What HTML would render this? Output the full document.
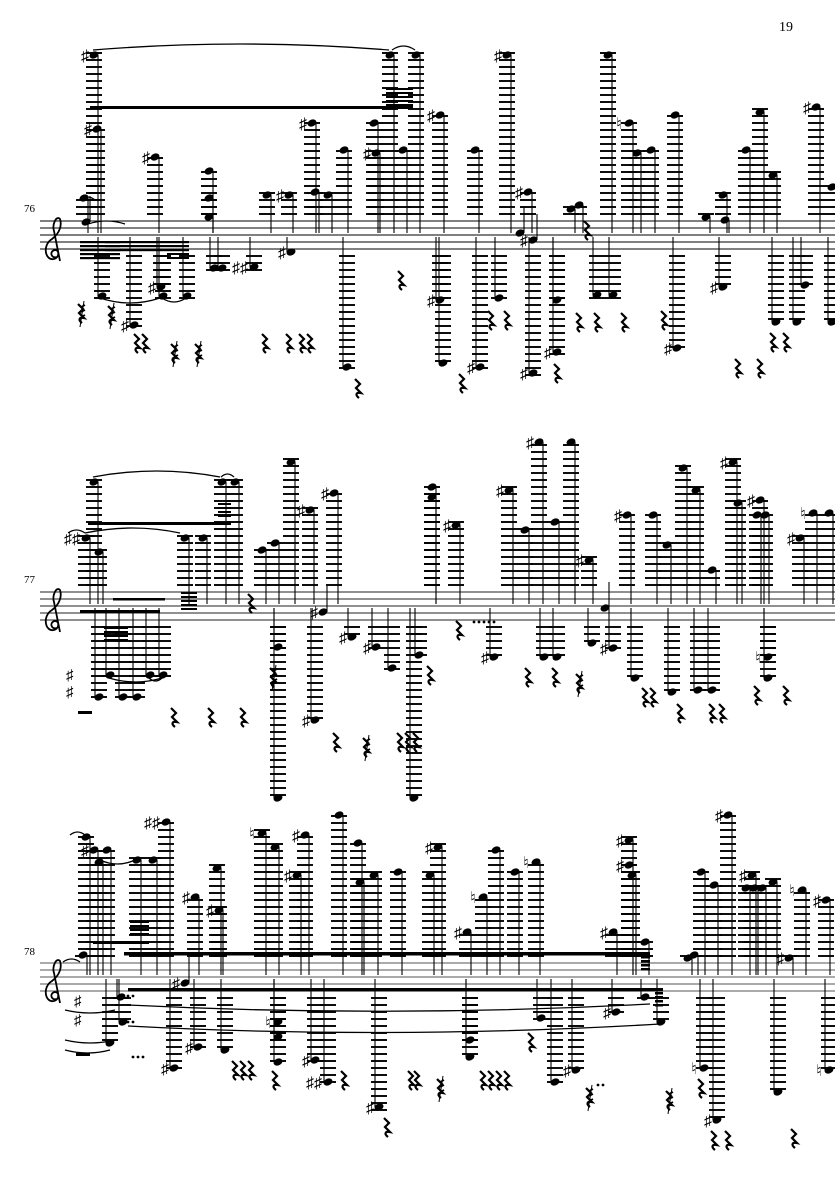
<!DOCTYPE html>
<html><head><meta charset="utf-8">
<style>
html,body{margin:0;padding:0;background:#fff;}
svg{display:block;}
text{font-family:"Liberation Serif","DejaVu Serif",serif;fill:#000;}
</style></head>
<body>
<svg id="s" width="835" height="1181" viewBox="0 0 835 1181" xmlns="http://www.w3.org/2000/svg">
<rect width="835" height="1181" fill="#fff"/>
<text x="779" y="31" font-size="14">19</text>
<text x="24" y="212" font-size="11">76</text>
<text x="24" y="583" font-size="11">77</text>
<text x="24" y="955" font-size="11">78</text>
<g id="g"></g>
</svg>
<script>
var NS="http://www.w3.org/2000/svg",G=document.getElementById('g');
function el(t,a){var e=document.createElementNS(NS,t);for(var k in a)e.setAttribute(k,a[k]);G.appendChild(e);return e;}
function line(x1,y1,x2,y2,w,c){el('line',{x1:x1,y1:y1,x2:x2,y2:y2,stroke:c||'#000','stroke-width':w||1});}
var tops=[221,592,963];
function staff(T,c){for(var i=0;i<5;i++)line(40,T+i*7,835,T+i*7,1.1,c);
 el('path',{d:'M'+(57)+','+(T+36)+' c-6,2 -8,-6 -2,-7 c5,0 4,8 -1,9 c-9,2 -12,-14 -2,-20 c8,-6 10,-14 8,-20 c-4,-4 -8,6 -6,12 l6,30',fill:'none',stroke:'#000','stroke-width':1.8});
}
staff(221,'#000');staff(592,'#222');staff(963,'#555');
function sysOf(y){return y<420?0:(y<800?1:2);}
function note(x,y,acc,noStem){
 var T=tops[sysOf(y)],B=T+28;
 if(y<T-3){for(var ly=T-7;ly>=y-3;ly-=7)line(x-7,ly,x+9,ly,1.9);}
 if(y>B+3){for(var ly=B+7;ly<=y+3;ly+=7)line(x-7,ly,x+9,ly,1.9);}
 el('ellipse',{cx:x+1,cy:y,rx:4.6,ry:3.4,transform:'rotate(-22 '+(x+1)+' '+y+')',fill:'#000'});
 if(!noStem){
  if(y<T)line(x+5,y,x+5,T+12,1.1);
  else if(y>B)line(x-3,y,x-3,B-12,1.1);
  else line(x+5,y,x+5,y-26,1.1);
 }
 if(acc){var s=acc=='n'?'\u266E':(acc=='##'?'\u266F\u266F':'\u266F');
  var t=el('text',{x:x-(acc=='##'?21:12),y:y+6,'font-size':16,'font-family':'DejaVu Sans, sans-serif'});t.textContent=s;}
}
function rest(x,y,slash){
 el('path',{d:'M'+(x-2)+','+(y-9)+' l5,5 l-4,4 l5,5 c-5,-1 -6,2 -2,5',fill:'none',stroke:'#000','stroke-width':2.2});
 if(slash){line(x+4,y-12,x,y+14,1);for(var i=0;i<3;i++)line(x+1,y-6+i*5,x+5,y-8+i*5,1.8);}
}
function beam(x1,x2,y,h){el('rect',{x:x1,y:y,width:x2-x1,height:h||3,fill:'#000'});}
function tie(x1,x2,y,up,h){var d=h||(up?-6:6);el('path',{d:'M'+x1+','+y+' Q'+((x1+x2)/2)+','+(y+d*2)+' '+x2+','+y,fill:'none',stroke:'#000','stroke-width':1.3});}
function dots(x,y,n){for(var i=0;i<n;i++)el('circle',{cx:x+i*5,cy:y,r:1.4,fill:'#000'});}

var s1=[[93,55,'#'],[96,129,'#'],[83,198,''],[85,222,''],[389,55,''],[415,55,''],[154,157,'#'],[208,171,''],[208,198,''],[208,217,''],
[266,195,''],[288,195,'#'],[314,192,''],[327,195,''],[311,123,'#'],[343,150,''],[373,123,''],[375,153,'#'],[402,150,''],[439,115,'#'],
[474,150,''],[506,55,'#'],[527,192,'#'],[519,233,''],[532,240,'#'],[570,209,''],[578,205,''],[607,55,''],[628,123,'n'],[636,153,''],
[650,150,''],[674,115,''],[705,217,''],[722,195,''],[724,220,''],[745,150,''],[759,112,''],[772,175,''],[815,107,'#'],[831,187,''],
[213,268,''],[221,268,''],[253,267,'##'],[290,252,'#'],[101,296,''],[160,287,'#'],[162,296,''],[186,296,''],[346,367,''],
[133,325,'#'],[442,363,''],[439,300,'#'],[479,367,'#'],[498,298,''],[532,373,'#'],[556,352,'#'],[556,300,''],[596,295,''],[612,295,''],
[676,348,'#'],[722,287,'#'],[775,322,''],[796,322,''],[804,285,''],[831,322,'']];
s1.forEach(function(n){note(n[0],n[1],n[2]);});
beam(90,413,106,3);for(var i=0;i<5;i++)beam(386,413,88+i*4,2);
tie(93,389,50,true,-6);tie(392,415,50,true,-4);tie(80,95,200,true,-3);tie(88,125,224,true,-3);
for(var i=0;i<5;i++)beam(80,120,241+i*4,2.2);for(var i=0;i<3;i++)beam(105,189,241+i*4,2.2);beam(167,189,253,2);beam(167,189,257,2);
tie(100,160,298,false,5);tie(162,186,298,false,4);
[[136,343],[144,343],[264,343],[288,343],[301,343],[309,343],[357,388],[461,383],[490,320],[506,320],[556,373],[578,322],[596,322],[623,322],[663,320],[737,368],[759,368],[772,342],[785,342],[586,230],[400,280]].forEach(function(r){rest(r[0],r[1]);});
[[80,313],[110,315],[173,353],[197,353]].forEach(function(r){rest(r[0],r[1],true);});

var s2=[[93,482,''],[221,482,''],[234,482,''],[85,538,'##'],[98,552,''],[184,538,''],[202,538,''],[261,550,''],[274,543,''],[290,462,''],
[309,510,'#'],[333,493,'#'],[431,487,''],[431,497,''],[455,525,'#'],[508,490,'#'],[538,442,'#'],[524,530,''],[554,522,''],[570,442,''],
[588,560,'#'],[626,515,'#'],[652,515,''],[666,545,''],[682,468,''],[695,490,''],[711,570,''],[732,462,'#'],[737,503,''],[759,500,'#'],
[756,515,''],[764,515,''],[799,538,'#'],[812,513,'n'],[828,513,''],
[277,647,''],[322,612,'#'],[314,720,'#'],[351,637,'#'],[375,647,'#'],[391,668,''],[418,655,''],[493,657,'#'],[543,657,''],[556,657,''],
[591,643,''],[612,648,'#'],[604,608,''],[634,678,''],[671,692,''],[697,690,''],[711,690,''],[767,657,'n'],[767,678,''],
[109,675,''],[149,675,''],[162,675,''],[98,697,''],[122,697,''],[136,697,'']];
s2.forEach(function(n){note(n[0],n[1],n[2]);});
beam(88,231,522,3);for(var i=0;i<4;i++)beam(218,231,503+i*4,2);
tie(93,220,477,true,-6);tie(221,234,477,true,-3);tie(85,180,533,true,-5);tie(68,85,533,true,-3);
beam(80,160,610,3);beam(113,165,598,2.5);for(var i=0;i<5;i++)beam(181,197,592+i*4,2);
for(var i=0;i<4;i++)beam(104,128,627+i*4,2);
tie(109,162,678,false,4);tie(149,162,678,false,3);
el('rect',{x:78,y:711,width:14,height:3,fill:'#000'});
[[250,603],[429,675],[458,630],[527,677],[554,677],[644,697],[652,697],[679,713],[711,713],[721,713],[756,695],[785,695],[173,717],[210,717],[242,717],[335,742],[399,742],[407,742],[415,742]].forEach(function(r){rest(r[0],r[1]);});
[[272,677],[578,683],[365,747]].forEach(function(r){rest(r[0],r[1],true);});
dots(474,622,5);
el('text',{x:66,y:680,'font-size':15,'font-family':'DejaVu Sans'}).textContent='\u266F';
el('text',{x:66,y:697,'font-size':15,'font-family':'DejaVu Sans'}).textContent='\u266F';

var s3=[[85,837,''],[93,850,'#'],[106,850,''],[98,862,''],[136,860,''],[152,860,''],[165,822,'##'],[194,897,'#'],[218,910,'#'],[216,868,''],
[261,833,'n'],[274,847,''],[277,798,''],[304,835,'#'],[296,875,'#'],[338,815,''],[357,843,''],[359,882,''],[373,875,''],[397,872,''],
[413,798,''],[429,875,''],[437,847,'#'],[466,932,'#'],[482,897,'n'],[495,850,''],[514,872,''],[535,862,'n'],[612,932,'#'],[628,840,'#'],
[628,865,'#'],[631,875,''],[644,942,''],[700,872,''],[713,885,''],[727,815,'#'],[751,875,'#'],[745,888,''],[753,888,''],[761,888,''],
[772,882,''],[801,890,'n'],[825,900,'#'],[687,958,''],[693,955,''],[788,958,'#'],[82,955,''],
[120,997,''],[122,1022,''],[109,1043,''],[184,983,'#'],[173,1068,'#'],[197,1047,'#'],[224,1050,''],[277,1022,'n'],[277,1037,''],[277,1062,''],
[314,1060,'#'],[327,1082,'##'],[378,1107,'#'],[469,1040,''],[469,1057,''],[540,1018,''],[554,1082,''],[575,1070,'#'],[615,1012,'#'],
[644,997,''],[660,1022,''],[703,1068,'n'],[716,1120,'#'],[777,1092,''],[828,1070,'n']];
s3.forEach(function(n){note(n[0],n[1],n[2]);});
beam(124,650,952,3.5);beam(93,149,941,3);for(var i=0;i<4;i++)beam(130,149,921+i*4,2);
for(var i=0;i<5;i++)beam(641,650,952+i*4,2.5);
beam(128,663,988,3.5);for(var i=0;i<4;i++)beam(655,663,992+i*4,2.5);
el('path',{d:'M128,1005 Q390,1018 650,1004',fill:'none',stroke:'#000','stroke-width':1.3});
el('path',{d:'M128,1026 Q390,1040 660,1024',fill:'none',stroke:'#000','stroke-width':1.3});
tie(70,85,835,true,-3);tie(100,135,860,false,4);tie(63,80,962,true,-3);
tie(65,115,1010,false,3);tie(65,115,1040,false,3);tie(65,110,1050,false,3);
el('rect',{x:76,y:1053,width:14,height:3,fill:'#000'});
dots(133,1057,3);dots(128,996,2);dots(128,1022,2);dots(598,1085,2);
el('text',{x:74,y:1006,'font-size':15,'font-family':'DejaVu Sans'}).textContent='\u266F';
el('text',{x:74,y:1025,'font-size':15,'font-family':'DejaVu Sans'}).textContent='\u266F';
[[234,1070],[242,1070],[250,1070],[274,1080],[343,1080],[386,1127],[410,1080],[416,1080],[482,1080],[490,1080],[498,1080],[506,1080],[530,1042],[700,1088],[713,1140],[727,1140],[793,1138]].forEach(function(r){rest(r[0],r[1]);});
[[439,1088],[588,1097],[668,1100]].forEach(function(r){rest(r[0],r[1],true);});
</script>
</body></html>
